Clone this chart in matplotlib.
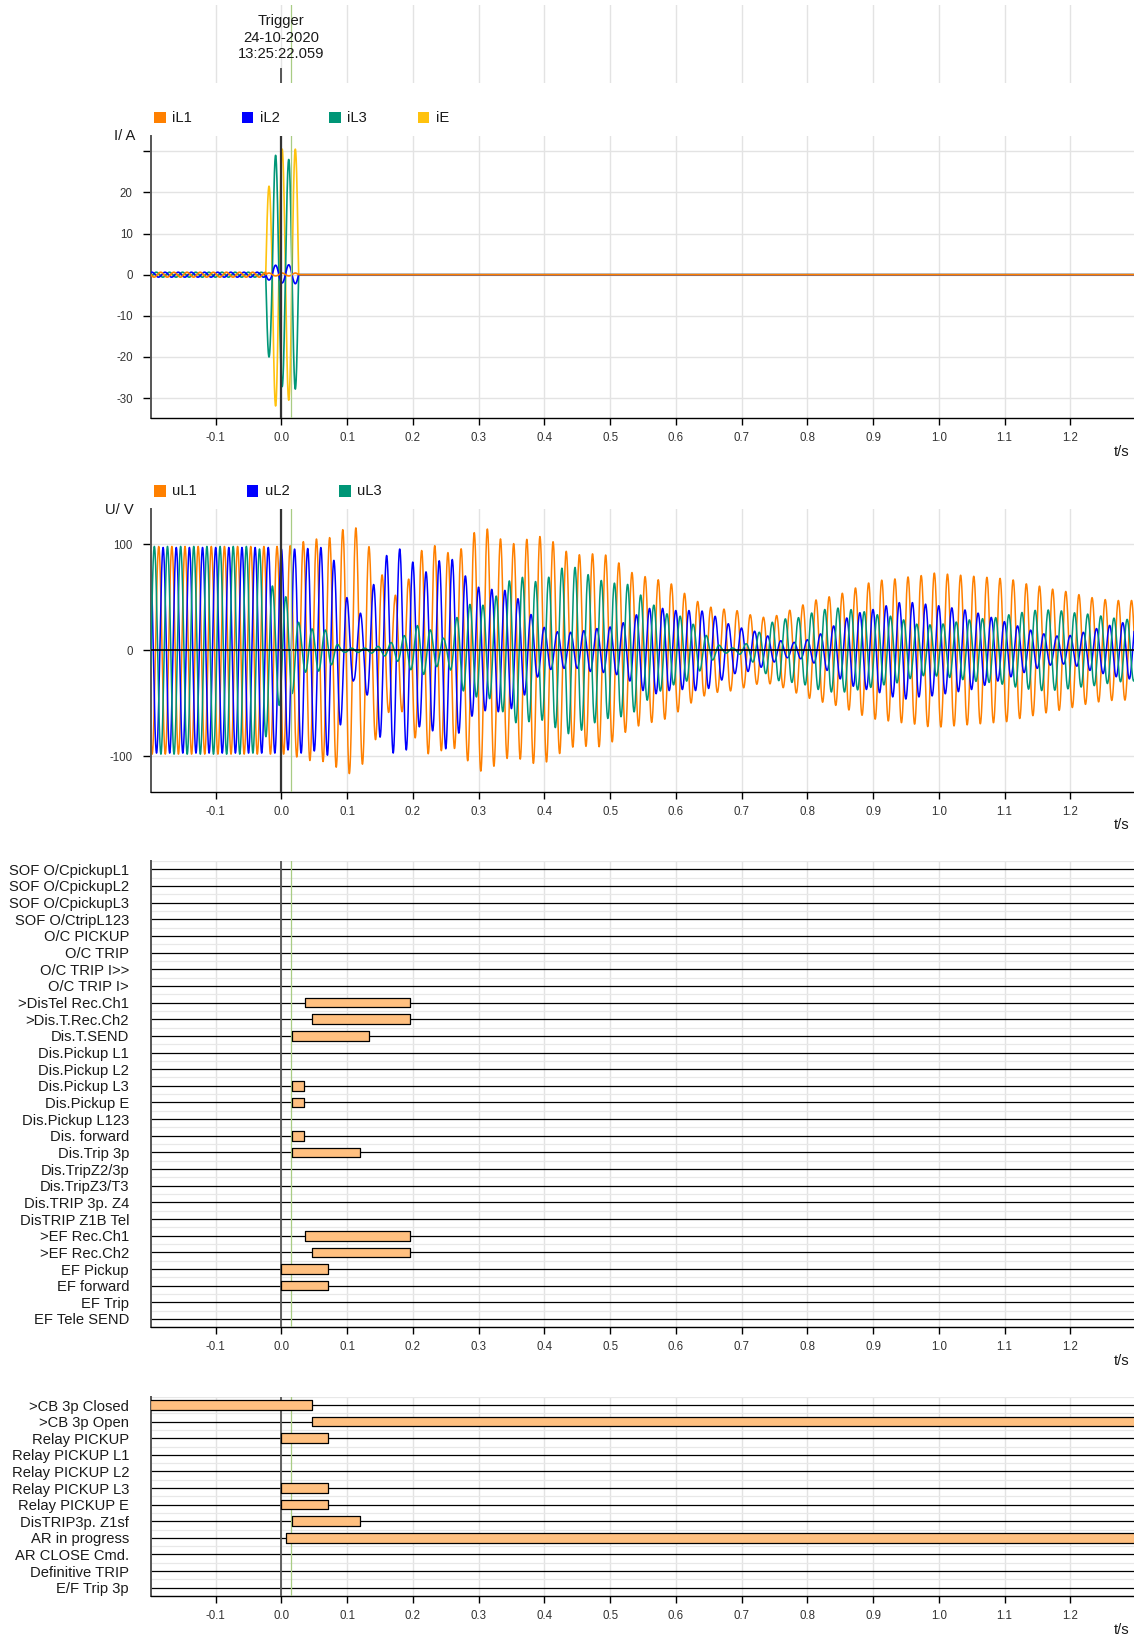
import numpy as np
import matplotlib
matplotlib.use('Agg')
import matplotlib.pyplot as plt
from matplotlib.patches import Rectangle

plt.rcParams['font.family'] = ['Liberation Sans', 'DejaVu Sans']

# ---------------- data ----------------
trigger_lines = ["Trigger", "24-10-2020", "13:25:22.059"]
t_trigger = 0.0
t_marker = 0.015
t_start, t_end = -0.199, 1.297
freq = 50.0

xtick_vals = [-0.1, 0.0, 0.1, 0.2, 0.3, 0.4, 0.5, 0.6, 0.7, 0.8, 0.9, 1.0, 1.1, 1.2]
xtick_labels = ["-0.1", "0.0", "0.1", "0.2", "0.3", "0.4", "0.5", "0.6", "0.7",
                "0.8", "0.9", "1.0", "1.1", "1.2"]

current_names = ["iL1", "iL2", "iL3", "iE"]
voltage_names = ["uL1", "uL2", "uL3"]
col_L1, col_L2, col_L3, col_E = "#FF8000", "#0000FF", "#009677", "#FFC20E"

i_yticks = [-30, -20, -10, 0, 10, 20, 30]
i_ytick_labels = ["-30", "-20", "-10", "0", "10", "20", ""]
u_yticks = [-100, 0, 100]
u_ytick_labels = ["-100", "0", "100"]

# currents: pre-fault load amplitude (A), fault half-cycle peaks (A)
i_prefault_amp = [0.6, 0.6, 0.6, 0.0]
fault_begin, fault_finish = -0.024, 0.026
fault_peak_t = [-0.019, -0.009, 0.001, 0.011, 0.021]
iL1_fault_peaks = [0.4, -0.3, 0.4, -0.3, 0.4]
iL2_fault_peaks = [-1.3, 2.3, -2.0, 2.4, -2.2]
iL3_fault_peaks = [-20.0, 29.0, -27.2, 28.0, -27.8]
iE_fault_peaks = [21.5, -31.9, 30.5, -30.5, 30.5]

# voltages: envelope amplitude (V) for each 20 ms cycle, centred at -0.19 + 0.02 k
u_env_t = [-0.19, -0.17, -0.15, -0.13, -0.11, -0.09, -0.07, -0.05, -0.03, -0.01,
           0.01, 0.03, 0.05, 0.07, 0.09, 0.11, 0.13, 0.15, 0.17, 0.19,
           0.21, 0.23, 0.25, 0.27, 0.29, 0.31, 0.33, 0.35, 0.37, 0.39,
           0.41, 0.43, 0.45, 0.47, 0.49, 0.51, 0.53, 0.55, 0.57, 0.59,
           0.61, 0.63, 0.65, 0.67, 0.69, 0.71, 0.73, 0.75, 0.77, 0.79,
           0.81, 0.83, 0.85, 0.87, 0.89, 0.91, 0.93, 0.95, 0.97, 0.99,
           1.01, 1.03, 1.05, 1.07, 1.09, 1.11, 1.13, 1.15, 1.17, 1.19,
           1.21, 1.23, 1.25, 1.27, 1.29]
uL1_amp = [98, 98, 98, 98, 98, 98, 98, 98, 98, 98,
           98, 102, 105, 105, 113, 118, 102, 75, 50, 62,
           93, 100, 92, 93, 110, 116, 106, 100, 104, 108,
           104, 94, 90, 91, 91, 84, 74, 70, 67, 64,
           55, 47, 41, 39, 38, 34, 31, 32, 37, 42,
           47, 50, 53, 58, 63, 66, 67, 69, 70, 73,
           72, 71, 70, 69, 68, 67, 63, 61, 58, 56,
           53, 50, 48, 47, 47]
uL2_amp = [97, 97, 97, 97, 97, 97, 97, 97, 97, 97,
           94, 97, 95, 99, 70, 28, 42, 82, 97, 94,
           72, 76, 93, 78, 62, 57, 58, 55, 42, 25,
           18, 17, 17, 20, 21, 23, 29, 38, 41, 38,
           37, 38, 36, 28, 22, 20, 16, 11, 7, 8,
           12, 19, 27, 34, 37, 40, 44, 46, 44, 43,
           41, 39, 37, 33, 29, 25, 21, 17, 14, 13,
           15, 19, 22, 25, 27]
uL3_amp = [98, 98, 98, 98, 98, 98, 98, 98, 95, 53,
           50, 21, 20, 19, 2, 2, 2, 4, 8, 15,
           25, 18, 10, 35, 45, 42, 53, 68, 69, 64,
           70, 79, 78, 70, 65, 63, 62, 50, 41, 33,
           32, 23, 12, 3, 2, 7, 19, 28, 30, 31,
           36, 39, 40, 38, 36, 33, 32, 28, 24, 24,
           25, 27, 29, 30, 31, 34, 36, 38, 38, 37,
           35, 34, 32, 30, 29]
uL1_peak_t = 0.0132          # time of a uL1 maximum (phase reference)

# binary signals: (start, end) in s
bin1_labels = ["SOF O/CpickupL1", "SOF O/CpickupL2", "SOF O/CpickupL3", "SOF O/CtripL123",
               "O/C PICKUP", "O/C TRIP", "O/C TRIP I>>", "O/C TRIP I>",
               ">DisTel Rec.Ch1", ">Dis.T.Rec.Ch2", "Dis.T.SEND", "Dis.Pickup L1",
               "Dis.Pickup L2", "Dis.Pickup L3", "Dis.Pickup E", "Dis.Pickup L123",
               "Dis. forward", "Dis.Trip 3p", "Dis.TripZ2/3p", "Dis.TripZ3/T3",
               "Dis.TRIP 3p. Z4", "DisTRIP Z1B Tel", ">EF Rec.Ch1", ">EF Rec.Ch2",
               "EF Pickup", "EF forward", "EF Trip", "EF Tele SEND"]
bin1_on = {
    ">DisTel Rec.Ch1": (0.0355, 0.195),
    ">Dis.T.Rec.Ch2": (0.0457, 0.196),
    "Dis.T.SEND": (0.0157, 0.1333),
    "Dis.Pickup L3": (0.0157, 0.0344),
    "Dis.Pickup E": (0.0157, 0.0344),
    "Dis. forward": (0.0157, 0.0344),
    "Dis.Trip 3p": (0.0157, 0.1197),
    ">EF Rec.Ch1": (0.0355, 0.195),
    ">EF Rec.Ch2": (0.0457, 0.196),
    "EF Pickup": (0.0, 0.0705),
    "EF forward": (0.0, 0.0705),
}
bin2_labels = [">CB 3p Closed", ">CB 3p Open", "Relay PICKUP", "Relay PICKUP L1",
               "Relay PICKUP L2", "Relay PICKUP L3", "Relay PICKUP E", "DisTRIP3p. Z1sf",
               "AR in progress", "AR CLOSE Cmd.", "Definitive TRIP", "E/F Trip 3p"]
bin2_on = {
    ">CB 3p Closed": (-0.2, 0.0466),
    ">CB 3p Open": (0.0466, 1.31),
    "Relay PICKUP": (0.0, 0.0705),
    "Relay PICKUP L3": (0.0, 0.0705),
    "Relay PICKUP E": (0.0, 0.0705),
    "DisTRIP3p. Z1sf": (0.0157, 0.1197),
    "AR in progress": (0.007, 1.31),
}

# ---------------- figure ----------------
W, H = 1134, 1635
fig = plt.figure(figsize=(W / 100, H / 100), dpi=100)
LEFT = 150.7

def make_axes(top, bottom):
    return fig.add_axes([LEFT / W, 1 - bottom / H, 1 - LEFT / W, (bottom - top) / H])

GRID = "#e3e3e3"
TICKC = "#333333"
FS_T = 8.3
FS = 10.6

def style_axes(ax, zero_col="#333333", zero_lw=1.6):
    ax.set_xlim(t_start, t_end)
    for s in ["top", "right"]:
        ax.spines[s].set_visible(False)
    ax.spines["left"].set_color("#555555")
    ax.spines["left"].set_linewidth(1.4)
    ax.spines["bottom"].set_color("black")
    ax.spines["bottom"].set_linewidth(1.0)
    ax.set_xticks(xtick_vals)
    ax.set_xticklabels(xtick_labels)
    ax.tick_params(axis="x", direction="out", length=5, width=1, pad=5.0,
                   labelsize=FS_T, labelcolor=TICKC)
    for xv in xtick_vals:
        ax.axvline(xv, color=GRID, lw=1.0, zorder=0)
    ax.axvline(t_trigger, color=zero_col, lw=zero_lw, zorder=6)
    ax.axvline(t_marker, color="#a8cc84", lw=0.9, zorder=7)

def ts_label(bottom_px):
    fig.text(1129 / W, 1 - (bottom_px + 33.7) / H, "t/s", ha="right", va="center",
             fontsize=FS, color="#1a1a1a")

# header
axh = make_axes(5, 83)
axh.set_xlim(t_start, t_end)
axh.set_ylim(83, 5)
axh.axis("off")
for xv in xtick_vals:
    axh.axvline(xv, color=GRID, lw=1.0, zorder=0)
axh.axvline(t_marker, color="#a8cc84", lw=0.9, zorder=3)
axh.plot([t_trigger, t_trigger], [69, 83], color="#555555", lw=1.4, zorder=4)
for txt, yy in zip(trigger_lines, [21, 37.5, 54]):
    axh.text(t_trigger, yy, txt, ha="center", va="center", fontsize=FS, color="#1a1a1a")

def legend(names, colors, xs, ycen):
    for nm, c, x in zip(names, colors, xs):
        fig.patches.append(Rectangle((x / W, 1 - (ycen + 5.7) / H), 11.4 / W, 11.4 / H,
                                     transform=fig.transFigure, facecolor=c, edgecolor="none"))
        fig.text((x + 18) / W, 1 - ycen / H, nm, ha="left", va="center", fontsize=FS,
                 color="#1a1a1a")

# ---------------- current panel ----------------
t = np.arange(-0.2, 1.3, 1 / 8000.0)
w = 2 * np.pi * freq

def current(pre_amp, pre_shift, peaks):
    y = np.zeros_like(t)
    pre = t < fault_begin
    y[pre] = pre_amp * np.cos(w * (t[pre] - uL1_peak_t - pre_shift))
    fw = (t >= fault_begin) & (t < fault_finish)
    h = np.clip(((t[fw] - fault_begin) / 0.01).astype(int), 0, len(peaks) - 1)
    pk = np.array(peaks)[h]
    y[fw] = pk * ((-1.0) ** h) * np.cos(w * (t[fw] - fault_peak_t[0]))
    return y

iL1 = current(i_prefault_amp[0], 0.003, iL1_fault_peaks)
iL2 = current(i_prefault_amp[1], 0.003 + 1 / 150, iL2_fault_peaks)
iL3 = current(i_prefault_amp[2], 0.003 - 1 / 150, iL3_fault_peaks)
iE = current(i_prefault_amp[3], 0.0, iE_fault_peaks)

axi = make_axes(136, 418.3)
style_axes(axi)
axi.set_ylim(-34.9, 33.7)
axi.set_yticks(i_yticks)
axi.set_yticklabels(i_ytick_labels)
axi.tick_params(axis="y", direction="out", length=5.5, width=1, pad=7.5,
                labelsize=FS_T, labelcolor=TICKC)
for yv in i_yticks:
    axi.axhline(yv, color=GRID, lw=1.0, zorder=0)
axi.plot(t, iE, color=col_E, lw=1.2, zorder=1.5)
axi.plot(t, iL3, color=col_L3, lw=1.2, zorder=2)
axi.plot(t, iL2, color=col_L2, lw=1.2, zorder=3)
axi.plot(t, iL1, color=col_L1, lw=1.2, zorder=3.5)
fig.text(135.7 / W, 1 - 136.5 / H, "I/ A", ha="right", va="center", fontsize=FS,
         color="#1a1a1a")
legend(current_names, [col_L1, col_L2, col_L3, col_E], [154.3, 241.7, 329.3, 417.7], 117.7)
ts_label(418.3)

# ---------------- voltage panel ----------------
e1 = np.interp(t, u_env_t, uL1_amp)
e2 = np.interp(t, u_env_t, uL2_amp)
e3 = np.interp(t, u_env_t, uL3_amp)
uL1 = e1 * np.cos(w * (t - uL1_peak_t))
uL2 = e2 * np.cos(w * (t - uL1_peak_t - 1 / 150))
uL3 = e3 * np.cos(w * (t - uL1_peak_t + 1 / 150))

axu = make_axes(509.3, 791.7)
style_axes(axu)
axu.set_ylim(-133.4, 133)
axu.set_yticks(u_yticks)
axu.set_yticklabels(u_ytick_labels)
axu.tick_params(axis="y", direction="out", length=5.5, width=1, pad=7.5,
                labelsize=FS_T, labelcolor=TICKC)
for yv in u_yticks:
    axu.axhline(yv, color=GRID, lw=1.0, zorder=0)
axu.plot(t, uL1, color=col_L1, lw=1.1, zorder=2)
axu.plot(t, uL2, color=col_L2, lw=1.1, zorder=2.5)
axu.plot(t, uL3, color=col_L3, lw=1.1, zorder=3)
axu.axhline(0, color="black", lw=1.2, zorder=4)
fig.text(133.3 / W, 1 - 510 / H, "U/ V", ha="right", va="center", fontsize=FS,
         color="#1a1a1a")
legend(voltage_names, [col_L1, col_L2, col_L3], [154.3, 246.7, 339.3], 491)
ts_label(791.7)

# ---------------- binary panels ----------------
def binary_panel(top, bottom, labels, on):
    ax = make_axes(top, bottom)
    style_axes(ax, zero_col="#555555", zero_lw=1.3)
    n = len(labels)
    ax.set_ylim(n - 0.5, -0.5)
    for i in range(n + 1):
        ax.axhline(i - 0.5, color="#e8e8e8", lw=0.9, zorder=0.5)
    for i in range(n):
        ax.axhline(i, color="black", lw=0.9, zorder=2)
    for i, lab in enumerate(labels):
        if lab in on:
            s, e = on[lab]
            ax.broken_barh([(s, e - s)], (i - 0.29, 0.58), facecolors="#FFC080",
                           edgecolors="black", linewidth=0.9, zorder=8)
    ax.set_yticks(range(n))
    ax.set_yticklabels(labels)
    ax.tick_params(axis="y", length=0, pad=15.6, labelsize=FS, labelcolor="#1a1a1a")
    ts_label(bottom)
    return ax

binary_panel(861, 1327.3, bin1_labels, bin1_on)
binary_panel(1396.7, 1596, bin2_labels, bin2_on)

fig.savefig("out.png", dpi=100)
